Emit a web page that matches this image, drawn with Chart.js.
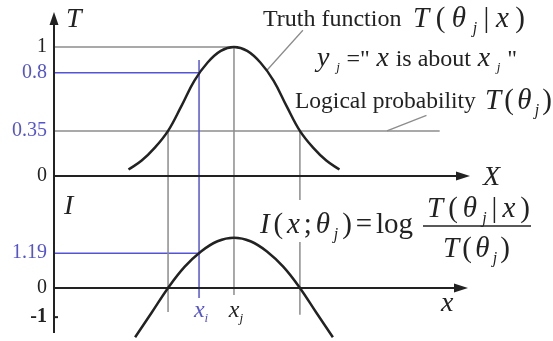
<!DOCTYPE html>
<html>
<head>
<meta charset="utf-8">
<script src="https://cdn.jsdelivr.net/npm/chart.js@4.4.1/dist/chart.umd.min.js"></script>
<style>
  html, body { margin: 0; padding: 0; background: #fff; }
  #wrap { width: 553px; height: 341px; }
</style>
</head>
<body>
<div id="wrap"><canvas id="chart" width="553" height="341"></canvas></div>
<script>
// x positions are in units where x_j = 0 and the 0.35 crossings sit at -1 / +1
const truthX = [-1.6, -1.4, -1.2, -1.0, -0.8, -0.6, -0.4, -0.2, 0, 0.2, 0.4, 0.6, 0.8, 1.0, 1.2, 1.4, 1.6];
const truthValues = [0.05, 0.12, 0.22, 0.35, 0.54, 0.74, 0.88, 0.97, 1.0, 0.97, 0.88, 0.74, 0.54, 0.35, 0.22, 0.12, 0.05];

const infoX = [-1.5, -1.25, -1.0, -0.75, -0.5, -0.25, 0, 0.25, 0.5, 0.75, 1.0, 1.25, 1.5];
const infoValues = [-1.69, -0.85, 0, 0.72, 1.25, 1.6, 1.72, 1.6, 1.25, 0.72, 0, -0.85, -1.69];

const truthTicks = [1, 0.8, 0.35, 0];
const truthTickLabels = ["1", "0.8", "0.35", "0"];
const infoTicks = [1.19, 0, -1];
const infoTickLabels = ["1.19", "0", "-1"];

const xi = -0.53;
const xj = 0;
const xLeftCross = -1;
const xRightCross = 1;

// horizontal guides: level and where they stop on x
const truthGuideLevels = [1, 0.8, 0.35];
const truthGuideEnds = [xj, xi, 3.12];
const infoGuideLevels = [1.19];
const infoGuideEnds = [xi];

// vertical guides: top in T units, bottom in I units
const vGuideX = [xLeftCross, xi, xj, xRightCross];
const vGuideTopT = [0.35, 0.9, 1, 0.35];
const vGuideBottomI = [-0.82, -0.34, -0.24, -0.92];

const xMin = -2.73, xMax = 3.58;
const tMin = -1.248, tMax = 1.264;
const iMin = -1.68, iMax = 9.42;

const BLUE = "#5353d6";
const GRAY = "#8c8c8c";
const INK = "#222";
const SERIF = '"Liberation Serif", "DejaVu Serif", serif';

function setFont(ctx, r, size) {
  const sz = r.z || (r.s ? size * 0.55 : size);
  ctx.font = `${r.i ? "italic " : ""}${sz}px ${SERIF}`;
  return sz;
}

function runWidth(ctx, runs, size) {
  let w = 0;
  runs.forEach(r => { setFont(ctx, r, size); w += ctx.measureText(r.t).width; });
  return w;
}

// draws text runs, spread evenly to fill "target" width when given
function drawRuns(ctx, runs, x, y, size, opts) {
  opts = opts || {};
  const natural = runWidth(ctx, runs, size);
  const target = opts.target || natural;
  const extra = runs.length > 1 ? (target - natural) / (runs.length - 1) : 0;
  let cx = x;
  if (opts.align === "center") cx = x - target / 2;
  ctx.fillStyle = opts.color || INK;
  ctx.textBaseline = "alphabetic";
  ctx.textAlign = "left";
  runs.forEach(r => {
    setFont(ctx, r, size);
    ctx.fillText(r.t, cx, r.s ? y + size * 0.22 : y);
    cx += ctx.measureText(r.t).width + extra;
  });
}

function line(ctx, x1, y1, x2, y2, color, width) {
  ctx.beginPath();
  ctx.moveTo(x1, y1);
  ctx.lineTo(x2, y2);
  ctx.strokeStyle = color;
  ctx.lineWidth = width;
  ctx.stroke();
}

function arrowHead(ctx, x, y, dir) {
  ctx.beginPath();
  if (dir === "up") {
    ctx.moveTo(x, y);
    ctx.lineTo(x - 4.5, y + 13);
    ctx.lineTo(x + 4.5, y + 13);
  } else {
    ctx.moveTo(x, y);
    ctx.lineTo(x - 14, y - 4.5);
    ctx.lineTo(x - 14, y + 4.5);
  }
  ctx.closePath();
  ctx.fillStyle = INK;
  ctx.fill();
}

const T_THETA = [{ t: "T", i: true }, { t: "(" }, { t: "θ", i: true }, { t: "j", i: true, s: true }, { t: ")" }];
const T_THETA_X = [{ t: "T", i: true }, { t: "(" }, { t: "θ", i: true }, { t: "j", i: true, s: true },
  { t: "|" }, { t: "x", i: true }, { t: ")" }];

const guidePlugin = {
  id: "guides",
  beforeDatasetsDraw(chart) {
    const ctx = chart.ctx;
    const sx = chart.scales.x, sT = chart.scales.yT, sI = chart.scales.yI;
    ctx.save();
    truthGuideLevels.forEach((lv, k) => {
      const y = sT.getPixelForValue(lv);
      line(ctx, sx.getPixelForValue(xMin), y, sx.getPixelForValue(truthGuideEnds[k]), y,
        lv === 0.8 ? BLUE : GRAY, 1.5);
    });
    infoGuideLevels.forEach((lv, k) => {
      const y = sI.getPixelForValue(lv);
      line(ctx, sx.getPixelForValue(xMin), y, sx.getPixelForValue(infoGuideEnds[k]), y, BLUE, 1.5);
    });
    vGuideX.forEach((u, k) => {
      const x = sx.getPixelForValue(u);
      line(ctx, x, sT.getPixelForValue(vGuideTopT[k]), x, sI.getPixelForValue(vGuideBottomI[k]),
        u === xi ? BLUE : GRAY, 1.5);
    });
    // leader lines for the labels
    line(ctx, sx.getPixelForValue(1.045), sT.getPixelForValue(1.13),
      sx.getPixelForValue(0.5), sT.getPixelForValue(0.82), GRAY, 1.3);
    line(ctx, sx.getPixelForValue(2.92), sT.getPixelForValue(0.47),
      sx.getPixelForValue(2.32), sT.getPixelForValue(0.35), GRAY, 1.3);

    // white patch behind formula
    ctx.fillStyle = "#fff";
    ctx.fillRect(256, 200, 164, 42);

    // axes
    const x0 = sx.getPixelForValue(xMin);
    const xEnd = sx.getPixelForValue(xMax);
    line(ctx, x0, chart.chartArea.top + 10, x0, sI.getPixelForValue(-1.54), INK, 2);
    arrowHead(ctx, x0, chart.chartArea.top - 1, "up");
    const yT0 = sT.getPixelForValue(0);
    line(ctx, x0, yT0, xEnd - 10, yT0, INK, 2);
    arrowHead(ctx, xEnd, yT0, "right");
    const yI0 = sI.getPixelForValue(0);
    line(ctx, x0, yI0, xEnd - 12, yI0, INK, 2);
    arrowHead(ctx, xEnd - 2, yI0, "right");
    const yM1 = sI.getPixelForValue(-1);
    line(ctx, x0, yM1, x0 + 4, yM1, INK, 2);
    ctx.restore();
  },
  afterDraw(chart) {
    const ctx = chart.ctx;
    const sx = chart.scales.x, sT = chart.scales.yT, sI = chart.scales.yI;
    ctx.save();
    ctx.textBaseline = "middle";
    ctx.textAlign = "right";
    truthTicks.forEach((v, k) => {
      ctx.font = `20px ${SERIF}`;
      ctx.fillStyle = (v === 0.8 || v === 0.35) ? BLUE : INK;
      ctx.fillText(truthTickLabels[k], 47, sT.getPixelForValue(v));
    });
    infoTicks.forEach((v, k) => {
      ctx.font = `${v === -1 ? "bold " : ""}20px ${SERIF}`;
      ctx.fillStyle = v === 1.19 ? BLUE : INK;
      ctx.fillText(infoTickLabels[k], 47, sI.getPixelForValue(v));
    });

    // axis names (baselines)
    drawRuns(ctx, [{ t: "T", i: true }], 66, 27, 28);
    drawRuns(ctx, [{ t: "X", i: true }], 483, sT.getPixelForValue(0) + 9, 28);
    drawRuns(ctx, [{ t: "I", i: true }], 64, 214, 28);
    drawRuns(ctx, [{ t: "x", i: true }], 441, 311, 28);
    drawRuns(ctx, [{ t: "x", i: true }, { t: "i", i: true, s: true }], sx.getPixelForValue(xi) + 2, 317, 24,
      { align: "center", color: BLUE });
    drawRuns(ctx, [{ t: "x", i: true }, { t: "j", i: true, s: true }], sx.getPixelForValue(xj) + 2, 317, 24,
      { align: "center" });

    // labels
    drawRuns(ctx, [{ t: "Truth function" }], 263, 26, 24);
    drawRuns(ctx, T_THETA_X, 413, 27, 29, { target: 112 });
    drawRuns(ctx, [{ t: "y", i: true, z: 28 }, { t: "j", i: true, s: true }, { t: "=\"" }, { t: "x", i: true, z: 28 },
      { t: "is about" }, { t: "x", i: true, z: 28 }, { t: "j", i: true, s: true }, { t: "\"" }], 317, 66, 24, { target: 200 });
    drawRuns(ctx, [{ t: "Logical probability" }], 295, 108, 23.5);
    drawRuns(ctx, T_THETA, 485, 109, 29, { target: 67 });

    // formula
    drawRuns(ctx, [{ t: "I", i: true }, { t: "(" }, { t: "x", i: true }, { t: ";" }, { t: "θ", i: true },
      { t: "j", i: true, s: true }, { t: ")" }, { t: "=" }, { t: "log" }], 260, 233, 29, { target: 153 });
    drawRuns(ctx, T_THETA_X, 427, 217, 29, { target: 103 });
    line(ctx, 423, 226, 531, 226, INK, 1.5);
    drawRuns(ctx, T_THETA, 443, 257, 29, { target: 67 });
    ctx.restore();
  }
};

new Chart(document.getElementById("chart"), {
  type: "line",
  data: {
    datasets: [
      {
        label: "T(θj|x)",
        data: truthX.map((u, k) => ({ x: u, y: truthValues[k] })),
        yAxisID: "yT",
        borderColor: INK,
        borderWidth: 2.5,
        pointRadius: 0,
        tension: 0.4,
        clip: false
      },
      {
        label: "I(x;θj)",
        data: infoX.map((u, k) => ({ x: u, y: infoValues[k] })),
        yAxisID: "yI",
        borderColor: INK,
        borderWidth: 2.5,
        pointRadius: 0,
        tension: 0.4,
        clip: false
      }
    ]
  },
  options: {
    responsive: false,
    animation: false,
    devicePixelRatio: 1,
    layout: { padding: { left: 54, right: 83, top: 13, bottom: 4 } },
    plugins: { legend: { display: false }, tooltip: { enabled: false } },
    scales: {
      x: { type: "linear", min: xMin, max: xMax, display: false },
      yT: { type: "linear", min: tMin, max: tMax, display: false },
      yI: { type: "linear", min: iMin, max: iMax, display: false }
    }
  },
  plugins: [guidePlugin]
});
</script>
</body>
</html>
